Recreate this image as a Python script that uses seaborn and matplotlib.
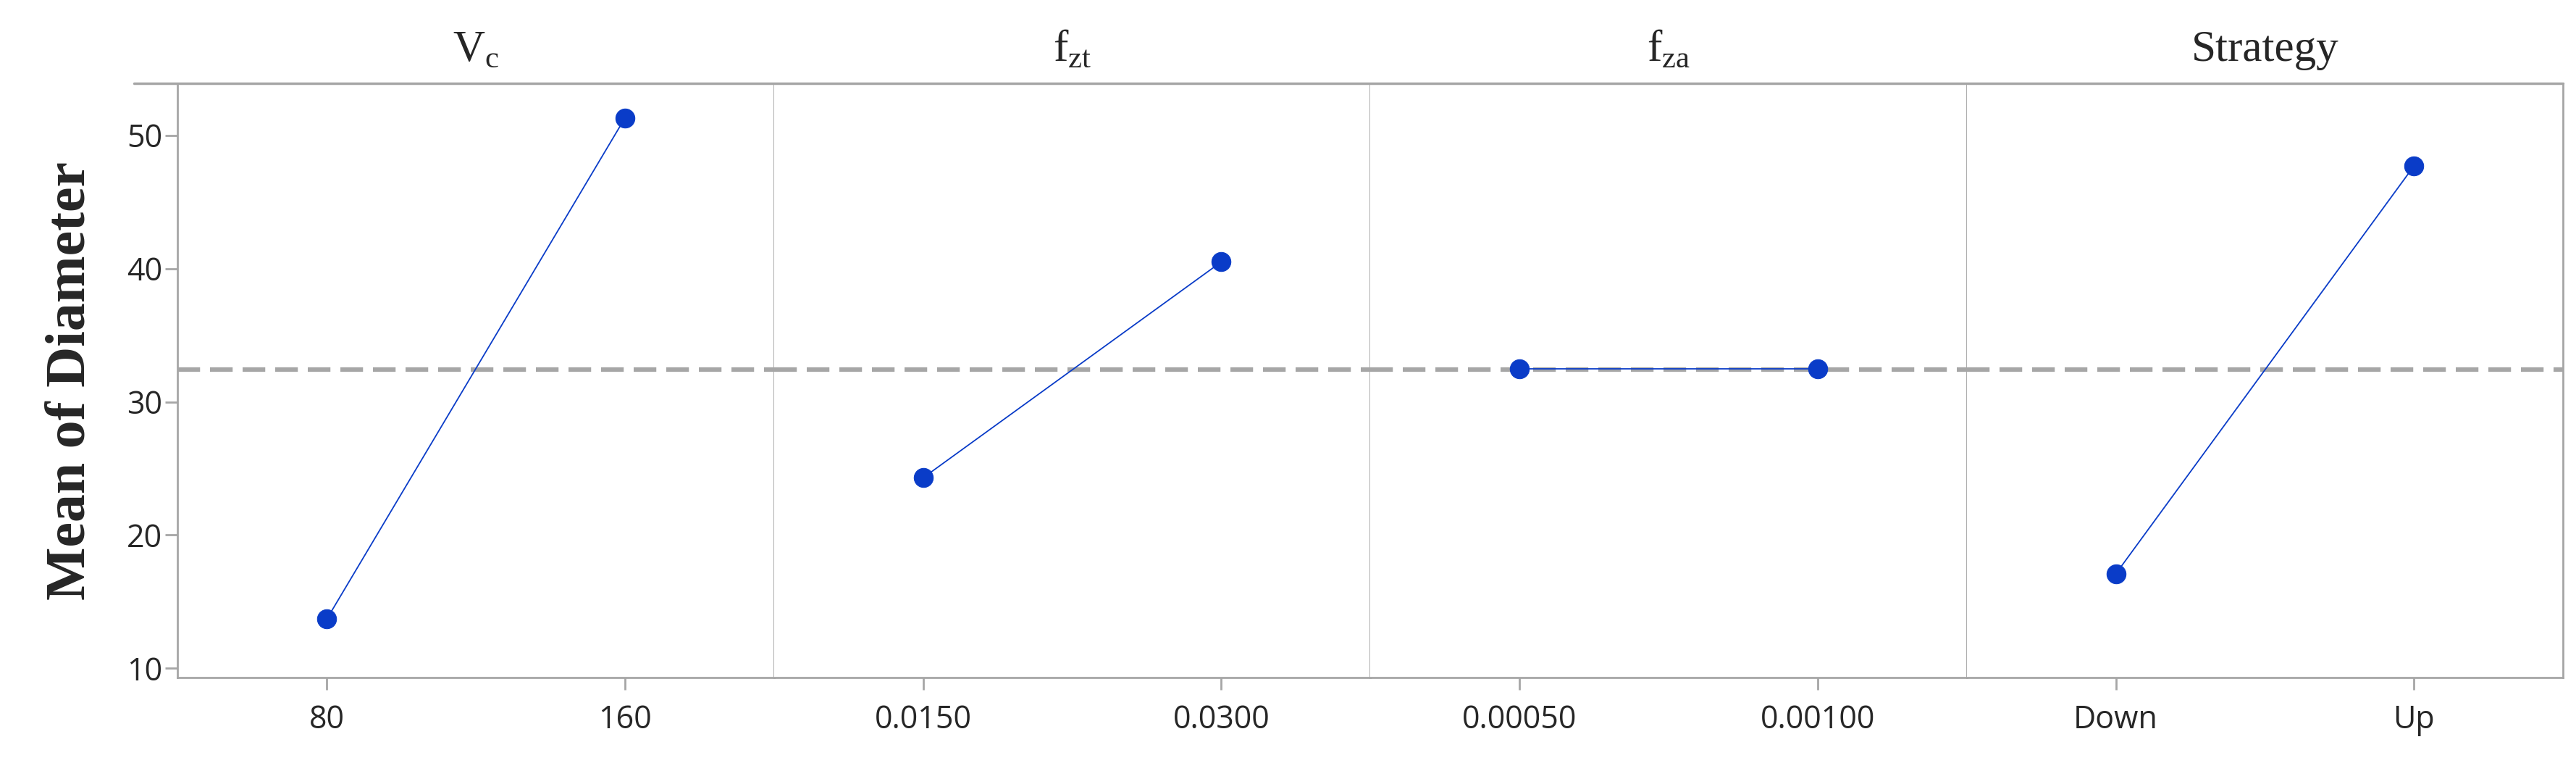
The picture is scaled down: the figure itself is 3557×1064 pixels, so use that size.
import matplotlib
matplotlib.use("Agg")
import matplotlib.pyplot as plt
import seaborn as sns
import pandas as pd

sns.set_style("white")

titles = ["V$_\\mathregular{c}$", "f$_\\mathregular{zt}$", "f$_\\mathregular{za}$", "Strategy"]
levels = [["80", "160"], ["0.0150", "0.0300"], ["0.00050", "0.00100"], ["Down", "Up"]]
means = [[13.7, 51.3], [24.3, 40.5], [32.5, 32.5], [17.1, 47.7]]
grand_mean = 32.4

fig = plt.figure(figsize=(35.57, 10.64), dpi=100)
left, right, bottom, top = 0.069, 0.995, 0.121, 0.892
w = (right - left) / 4
gray = "#a6a6a6"
blue = "#0a3cc8"
axes = []
for i in range(4):
    ax = fig.add_axes([left + i * w, bottom, w, top - bottom], sharey=axes[0] if axes else None)
    axes.append(ax)
    df = pd.DataFrame({"x": [0, 1], "y": means[i]})
    sns.lineplot(data=df, x="x", y="y", ax=ax, color=blue, lw=1.3, marker="o",
                 markersize=19, markeredgecolor=blue)
    ax.axhline(grand_mean, color=gray, ls=(0, (5, 2.2)), lw=4.5, zorder=0)
    ax.set_xlim(-0.5, 1.5)
    ax.set_ylim(9.3, 53.9)
    ax.set_xticks([0, 1])
    ax.set_xticklabels(levels[i], fontsize=31, family="Open Sans")
    ax.set_xlabel("")
    ax.set_ylabel("")
    for s in ax.spines.values():
        s.set_color(gray)
        s.set_linewidth(2)
    ax.spines["top"].set_visible(False)
    ax.tick_params(axis="x", length=12, width=2, color=gray, pad=14, bottom=True)
    if i == 0:
        ax.set_yticks([10, 20, 30, 40, 50])
        ax.tick_params(axis="y", length=12, width=2, color=gray, labelsize=31, left=True)
        for t in ax.get_yticklabels():
            t.set_family("Open Sans")
        ax.set_ylabel("Mean of Diameter", fontsize=56, fontweight="bold",
                      family="Liberation Serif", labelpad=30)
    else:
        ax.tick_params(axis="y", left=False, labelleft=False)
        ax.spines["left"].set_visible(False)
    ax.set_title(titles[i], fontsize=44, family="Liberation Serif", pad=22)

fig.add_artist(plt.Line2D([left - 0.017, right], [top, top], color=gray, lw=2.5,
                          transform=fig.transFigure))
fig.savefig("out.png", dpi=100)
